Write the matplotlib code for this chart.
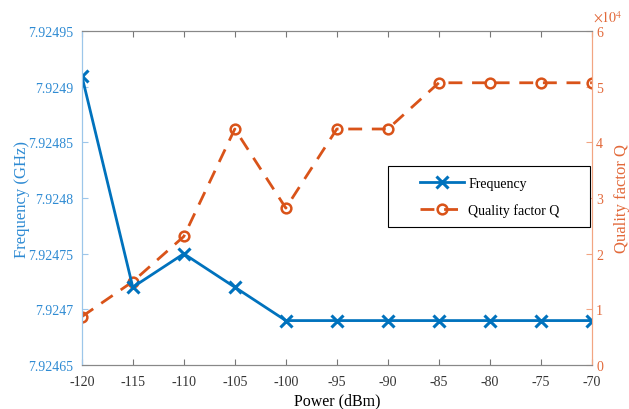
import matplotlib.pyplot as plt
from matplotlib.patches import Rectangle
from matplotlib.ticker import FuncFormatter

plt.rcParams['font.family'] = ['Liberation Serif', 'DejaVu Serif']
plt.rcParams['mathtext.fontset'] = 'stix'
plt.rcParams['axes.unicode_minus'] = False

power = [-120, -115, -110, -105, -100, -95, -90, -85, -80, -75, -70]
freq = [7.92491, 7.92472, 7.92475, 7.92472, 7.92469, 7.92469, 7.92469,
        7.92469, 7.92469, 7.92469, 7.92469]
q_factor = [8700, 15000, 23100, 42400, 28200, 42400, 42400,
            50700, 50700, 50700, 50700]

blue = '#0072BD'
orange = '#D95319'
blue_txt = '#2F8BD3'
orange_txt = '#E2693A'

fig = plt.figure(figsize=(6.29, 4.10), dpi=100)
ax = fig.add_axes([0.130, 0.107, 0.811, 0.815])
ax2 = ax.twinx()

l1, = ax.plot(power, freq, color=blue, lw=2, marker='x', ms=8.5, mew=2.2,
              label='Frequency')
l2, = ax2.plot(power, q_factor, color=orange, lw=2, ls=(0, (5, 3.5)),
               marker='o', ms=7, mew=1.8, mfc='none', label='Quality factor Q')

ax.set_xlim(-120, -70)
ax.set_xticks(range(-120, -69, 5))
ax.set_ylim(7.92465, 7.92495)
ax.set_yticks([7.92465, 7.9247, 7.92475, 7.9248, 7.92485, 7.9249, 7.92495])
ax.yaxis.set_major_formatter(FuncFormatter(lambda v, p: '%.6g' % v))
ax2.set_ylim(0, 60000)
ax2.set_yticks(range(0, 60001, 10000))
ax2.yaxis.set_major_formatter(FuncFormatter(lambda v, p: '%d' % round(v / 1e4)))
fig.text(0.942, 0.938, r'$\times10^4$', color=orange_txt, fontsize=10,
         ha='left', va='bottom')

ax.set_xlabel('Power (dBm)', fontsize=11.5, labelpad=3)
ax.set_ylabel('Frequency (GHz)', fontsize=12, color=blue_txt, labelpad=-1)
ax2.set_ylabel('Quality factor Q', fontsize=12, color=orange_txt, labelpad=8)

for a in (ax, ax2):
    a.tick_params(direction='in', length=4, labelsize=10, top=True, width=0.8)
    for s in a.spines.values():
        s.set_color('#888888')
        s.set_linewidth(0.8)
    a.spines['left'].set_color('#9CC6EA')
    a.spines['right'].set_color('#F2A582')
ax.tick_params(axis='y', colors='#9CC6EA', labelcolor=blue_txt, right=False, pad=6)
ax.tick_params(axis='x', colors='#777777', labelcolor='#333333', pad=7)
ax2.tick_params(axis='y', colors='#F2A582', labelcolor=orange_txt, pad=3)

# MATLAB-style legend box, wider than the entries
box = Rectangle((0.6, 0.413), 0.396, 0.183, transform=ax.transAxes,
                facecolor='white', edgecolor='black', lw=0.8, zorder=4)
ax.add_patch(box)
leg = ax.legend([l1, l2], ['Frequency', 'Quality factor Q'], loc='center',
                bbox_to_anchor=(0.8, 0.5045), fontsize=10, frameon=False,
                borderpad=0, labelspacing=0.95, handlelength=3.2,
                handletextpad=0.3, borderaxespad=0)
leg.set_zorder(5)
ax.set_zorder(ax2.get_zorder() + 1)
ax.patch.set_visible(False)

fig.savefig('out.png', dpi=100)
